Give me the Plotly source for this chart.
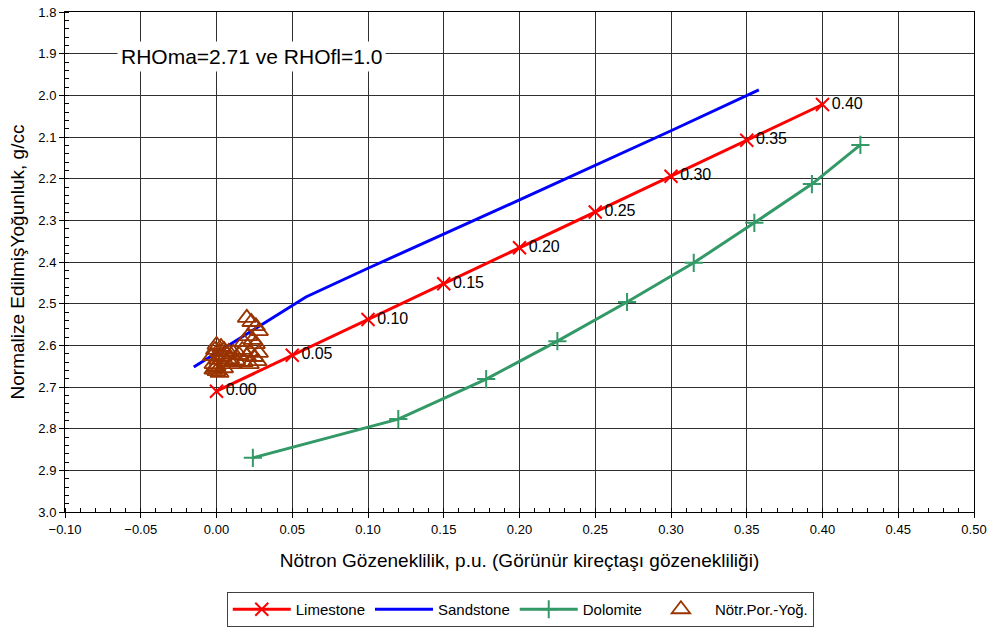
import plotly.graph_objects as go

# Limestone
lime_x = [0.00, 0.05, 0.10, 0.15, 0.20, 0.25, 0.30, 0.35, 0.40]
lime_y = [2.71, 2.624, 2.538, 2.452, 2.366, 2.28, 2.194, 2.108, 2.022]
lime_lbl = ["0.00", "0.05", "0.10", "0.15", "0.20", "0.25", "0.30", "0.35", "0.40"]

# Sandstone
sand_x = [-0.015, 0.059, 0.10, 0.20, 0.30, 0.358]
sand_y = [2.652, 2.484, 2.415, 2.251, 2.085, 1.987]

# Dolomite
dolo_x = [0.024, 0.120, 0.178, 0.225, 0.271, 0.315, 0.355, 0.393, 0.425]
dolo_y = [2.870, 2.777, 2.681, 2.590, 2.496, 2.402, 2.306, 2.213, 2.119]

# Neutron porosity - density data points
nd_x = [-0.003, -0.002, -0.001, 0.000, 0.001, 0.002, 0.003, 0.004, 0.005, 0.007,
        -0.001, 0.000, 0.008, 0.009, 0.011,
        0.015, 0.017, 0.020, 0.022, 0.025, 0.028, 0.018, 0.021, 0.020, 0.023,
        0.026, 0.028, 0.024, 0.026,
        0.000, 0.002, -0.002, 0.005, 0.018, 0.022, 0.027, 0.013, 0.006, 0.010]
nd_y = [2.626, 2.645, 2.611, 2.599, 2.635, 2.616, 2.604, 2.628, 2.611, 2.623,
        2.654, 2.650, 2.616, 2.633, 2.618,
        2.623, 2.611, 2.626, 2.616, 2.628, 2.618, 2.592, 2.578, 2.534, 2.544,
        2.554, 2.566, 2.587, 2.597,
        2.662, 2.666, 2.658, 2.655, 2.640, 2.645, 2.638, 2.636, 2.640, 2.645]

x_ticks = [-0.10, -0.05, 0.00, 0.05, 0.10, 0.15, 0.20, 0.25, 0.30, 0.35, 0.40, 0.45, 0.50]
y_ticks = [1.8, 1.9, 2.0, 2.1, 2.2, 2.3, 2.4, 2.5, 2.6, 2.7, 2.8, 2.9, 3.0]

FONT = "Arial, Liberation Sans, sans-serif"

fig = go.Figure()
fig.add_trace(go.Scatter(
    x=lime_x, y=lime_y, name="Limestone", mode="lines+markers+text",
    text=lime_lbl, textposition="middle right",
    textfont=dict(size=16, color="black", family=FONT),
    line=dict(color="#FF0000", width=3),
    marker=dict(symbol="x-thin", size=13, line=dict(color="#FF0000", width=2), color="#FF0000"),
))
fig.add_trace(go.Scatter(
    x=sand_x, y=sand_y, name="Sandstone", mode="lines",
    line=dict(color="#0000FF", width=3),
))
fig.add_trace(go.Scatter(
    x=dolo_x, y=dolo_y, name="Dolomite", mode="lines+markers",
    line=dict(color="#339966", width=3),
    marker=dict(symbol="cross-thin", size=13, line=dict(color="#339966", width=2), color="#339966"),
))
fig.add_trace(go.Scatter(
    x=nd_x, y=nd_y, name="Nötr.Por.-Yoğ.", mode="markers",
    marker=dict(symbol="triangle-up-open", size=16, color="#993300", line=dict(color="#993300", width=1.8)),
))

fig.add_annotation(
    x=0.2057, y=0.91, xref="paper", yref="paper", xanchor="center", yanchor="middle",
    text="RHOma=2.71 ve RHOfl=1.0", showarrow=False,
    font=dict(size=21, color="black", family=FONT), bgcolor="white", borderpad=3,
)

fig.update_layout(
    width=991, height=630,
    margin=dict(l=65, r=17, t=12, b=118),
    paper_bgcolor="white", plot_bgcolor="white",
    font=dict(family=FONT, color="black", size=13),
    showlegend=True,
    legend=dict(
        orientation="h", x=0.525, xanchor="center", xref="container",
        y=1 - 592 / 630, yanchor="top", yref="container",
        bordercolor="#404040", borderwidth=1, font=dict(size=15, family=FONT),
        itemwidth=58, tracegroupgap=0,
    ),
    xaxis=dict(
        range=[-0.10, 0.50], tickvals=x_ticks, tickformat=".2f", automargin=False,
        showgrid=True, gridcolor="#303030", gridwidth=1,
        showline=True, linecolor="black", linewidth=1, mirror=True,
        ticks="outside", ticklen=5, tickcolor="black",
        minor=dict(dtick=0.01, ticks="inside", ticklen=4, tickcolor="black", showgrid=False),
        zeroline=False,
        title=dict(text="Nötron Gözeneklilik, p.u. (Görünür kireçtaşı gözenekliliği)",
                   font=dict(size=19, family=FONT), standoff=18),
        tickfont=dict(size=13),
    ),
    yaxis=dict(
        range=[3.0, 1.8], tickvals=y_ticks, tickformat=".1f", automargin=False,
        showgrid=True, gridcolor="#303030", gridwidth=1,
        showline=True, linecolor="black", linewidth=1, mirror=True,
        ticks="outside", ticklen=5, tickcolor="black",
        minor=dict(dtick=0.02, ticks="inside", ticklen=4, tickcolor="black", showgrid=False),
        zeroline=False,
        title=dict(text="Normalize EdilmişYoğunluk, g/cc", font=dict(size=19, family=FONT), standoff=8),
        tickfont=dict(size=13),
    ),
)

fig.write_html("out.html")
